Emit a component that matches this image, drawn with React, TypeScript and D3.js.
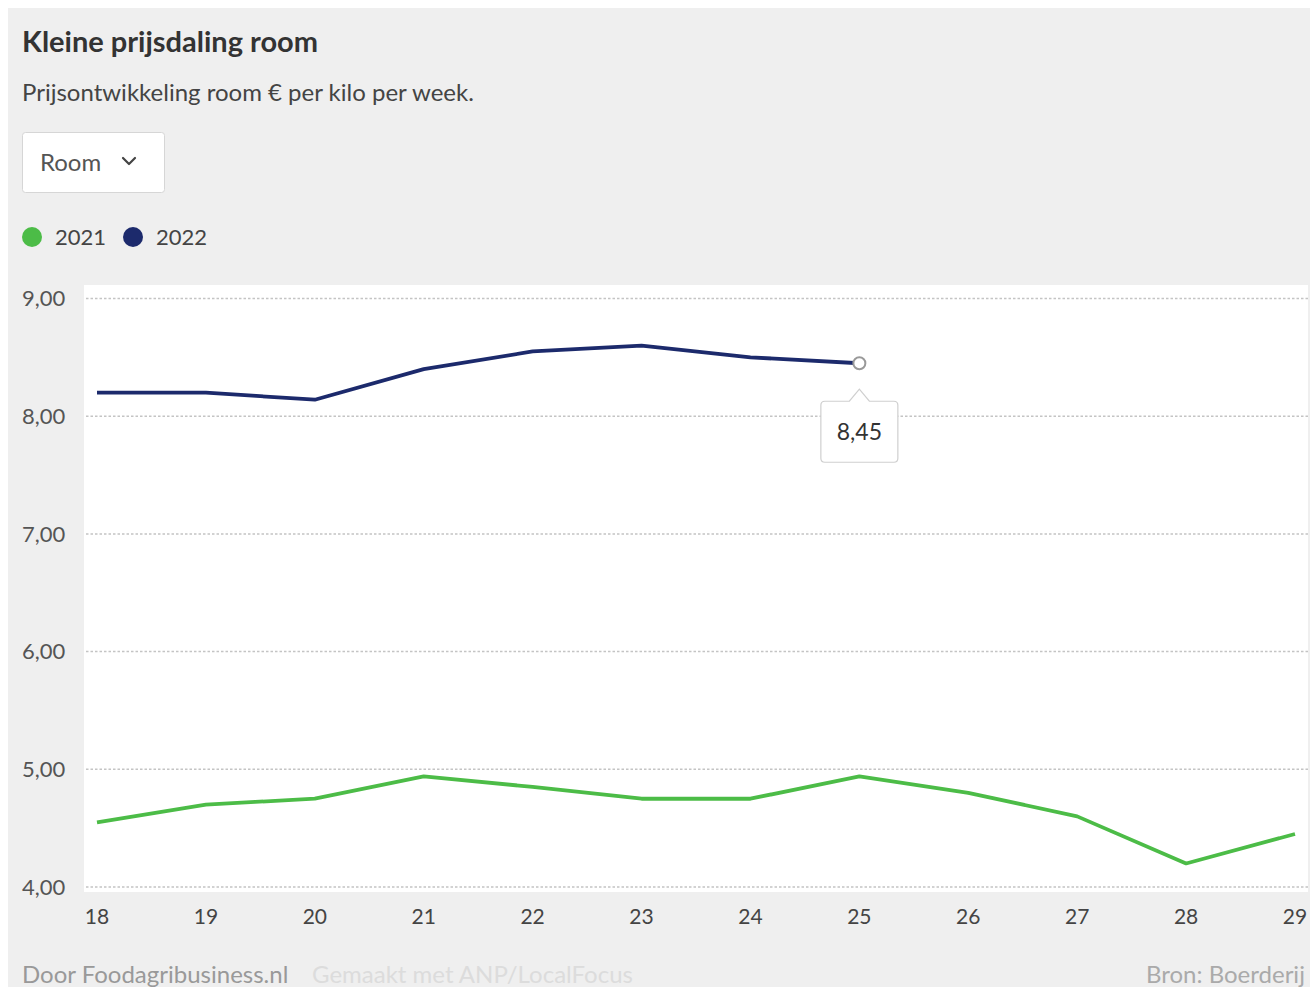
import React from "react";
import * as d3 from "d3";

// Weekly cream price, € per kilo
const weeks = [18, 19, 20, 21, 22, 23, 24, 25, 26, 27, 28, 29];
const prices2021 = [4.55, 4.7, 4.75, 4.94, 4.85, 4.75, 4.75, 4.94, 4.8, 4.6, 4.2, 4.45];
const weeks2022 = [18, 19, 20, 21, 22, 23, 24, 25];
const prices2022 = [8.2, 8.2, 8.14, 8.4, 8.55, 8.6, 8.5, 8.45];
const yTicks = [4, 5, 6, 7, 8, 9];
const seriesNames = ["2021", "2022"];
const seriesColors = ["#4cbc47", "#1c2a6c"];

const FONT = "Lato, 'Noto Sans', sans-serif";
const W = 1330;
const H = 1000;

const plot = { left: 76, top: 277, right: 1300, bottom: 884 };

export default function App() {
  const x = d3.scaleLinear().domain([18, 29]).range([89, 1287]);
  const y = d3.scaleLinear().domain([4, 9]).range([879, 290.5]);
  const fmt = (v: number) => d3.format(".2f")(v).replace(".", ",");

  const line = d3
    .line<[number, number]>()
    .x((d) => x(d[0]))
    .y((d) => y(d[1]));

  const d2021 = line(weeks.map((w, i) => [w, prices2021[i]] as [number, number]));
  const d2022 = line(weeks2022.map((w, i) => [w, prices2022[i]] as [number, number]));

  // highlighted last value of 2022
  const lastIdx = prices2022.length - 1;
  const px = x(weeks2022[lastIdx]);
  const py = y(prices2022[lastIdx]);
  const tipW = 77;
  const tipH = 61;
  const tipTop = py + 38;
  const tipPath = [
    `M${px - tipW / 2 + 4},${tipTop}`,
    `L${px - 10},${tipTop}`,
    `L${px},${tipTop - 12}`,
    `L${px + 10},${tipTop}`,
    `L${px + tipW / 2 - 4},${tipTop}`,
    `Q${px + tipW / 2},${tipTop} ${px + tipW / 2},${tipTop + 4}`,
    `L${px + tipW / 2},${tipTop + tipH - 4}`,
    `Q${px + tipW / 2},${tipTop + tipH} ${px + tipW / 2 - 4},${tipTop + tipH}`,
    `L${px - tipW / 2 + 4},${tipTop + tipH}`,
    `Q${px - tipW / 2},${tipTop + tipH} ${px - tipW / 2},${tipTop + tipH - 4}`,
    `L${px - tipW / 2},${tipTop + 4}`,
    `Q${px - tipW / 2},${tipTop} ${px - tipW / 2 + 4},${tipTop}`,
    "Z",
  ].join(" ");

  return (
    <div style={{ position: "fixed", left: 8, top: 8, width: 1302, height: 979, overflow: "hidden" }}>
      <svg width={W} height={H} style={{ display: "block", fontFamily: FONT }}>
        <rect x={0} y={0} width={W} height={H} fill="#efefef" />

        <text x={14} y={44} fontSize={29} fontWeight={700} fill="#333">
          Kleine prijsdaling room
        </text>
        <text x={14} y={93} fontSize={24} fill="#444">
          Prijsontwikkeling room € per kilo per week.
        </text>

        {/* dropdown */}
        <rect x={14.5} y={124.5} width={142} height={60} rx={3} fill="#fff" stroke="#d6d6d6" />
        <text x={32} y={163} fontSize={24} fill="#555">
          Room
        </text>
        <path d="M115,150 L121,156 L127,150" fill="none" stroke="#444" strokeWidth={2.2} strokeLinecap="round" strokeLinejoin="round" />

        {/* legend */}
        {seriesNames.map((n, i) => {
          const lx = i === 0 ? 24 : 125;
          return (
            <g key={n}>
              <circle cx={lx} cy={229} r={10} fill={seriesColors[i]} />
              <text x={lx + 23} y={237} fontSize={22} fill="#444">
                {n}
              </text>
            </g>
          );
        })}

        {/* plot area */}
        <rect x={plot.left} y={plot.top} width={plot.right - plot.left} height={plot.bottom - plot.top} fill="#fff" />

        {yTicks.map((t) => (
          <g key={t}>
            <line
              x1={plot.left + 2}
              x2={plot.right}
              y1={y(t)}
              y2={y(t)}
              stroke="#c4c4c4"
              strokeWidth={1.5}
              strokeDasharray="2.5 2"
            />
            <text x={14} y={y(t)} dy="0.35em" fontSize={22} fill="#555">
              {fmt(t)}
            </text>
          </g>
        ))}

        {weeks.map((w) => (
          <text key={w} x={x(w)} y={916} textAnchor="middle" fontSize={21} fill="#444">
            {w}
          </text>
        ))}

        <path d={d2021 ?? ""} fill="none" stroke={seriesColors[0]} strokeWidth={3.8} strokeLinejoin="round" />
        <path d={d2022 ?? ""} fill="none" stroke={seriesColors[1]} strokeWidth={3.8} strokeLinejoin="round" />

        {/* tooltip */}
        <circle cx={px} cy={py} r={6} fill="#fff" stroke="#999" strokeWidth={2} />
        <path d={tipPath} fill="#fff" stroke="#cfcfcf" strokeWidth={1.2} />
        <text x={px} y={tipTop + tipH / 2} dy="0.35em" textAnchor="middle" fontSize={23} fill="#333">
          {fmt(prices2022[lastIdx])}
        </text>

        {/* footer */}
        <text x={14} y={975} fontSize={24} fill="#999">
          Door Foodagribusiness.nl
        </text>
        <text x={304} y={975} fontSize={24} fill="#dcdcdc">
          Gemaakt met ANP/LocalFocus
        </text>
        <text x={1138} y={975} fontSize={24} fill="#aaa">
          Bron: Boerderij
        </text>
      </svg>
    </div>
  );
}
